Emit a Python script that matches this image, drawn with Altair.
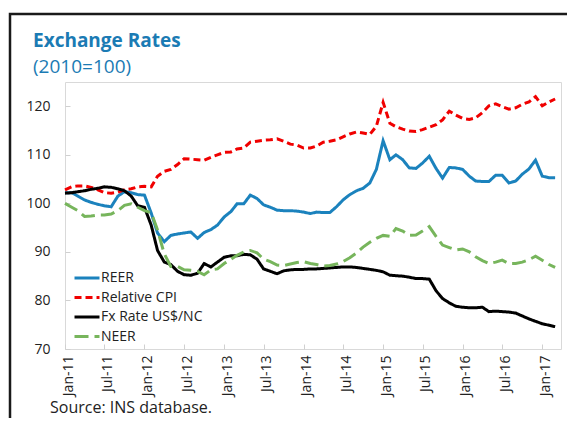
import altair as alt
import pandas as pd

months = pd.date_range("2011-01-01", periods=75, freq="MS").strftime("%Y-%m-%d").tolist()

reer = [102.2, 102.2, 101.5, 100.7, 100.2, 99.8, 99.5, 99.3, 101.5, 102.4, 102.2, 101.8,
        101.7, 98.0, 93.9, 92.1, 93.4, 93.7, 93.9, 94.1, 92.8, 94.0, 94.6, 95.5,
        97.2, 98.3, 99.9, 99.9, 101.7, 101.0, 99.7, 99.2, 98.6, 98.5, 98.5, 98.4,
        98.2, 97.9, 98.2, 98.1, 98.1, 99.3, 100.7, 101.8, 102.6, 103.1, 104.2, 107.0,
        112.9, 109.0, 110.0, 109.0, 107.3, 107.2, 108.3, 109.7, 107.2, 105.2, 107.4, 107.3,
        107.0, 105.6, 104.6, 104.5, 104.5, 105.8, 105.8, 104.2, 104.6, 106.0, 107.1, 108.9,
        105.6, 105.3, 105.3]

cpi = [102.8, 103.4, 103.6, 103.6, 103.3, 102.8, 102.2, 102.1, 102.3, 102.8, 103.0, 103.4,
       103.5, 103.4, 105.6, 106.6, 107.0, 108.0, 109.2, 109.1, 109.0, 108.9, 109.5, 110.0,
       110.5, 110.6, 111.2, 111.4, 112.6, 112.8, 113.0, 113.1, 113.3, 112.8, 112.2, 112.0,
       111.4, 111.4, 111.8, 112.6, 112.8, 113.1, 113.7, 114.3, 114.7, 114.5, 114.2, 115.9,
       120.8, 116.5, 115.8, 115.3, 114.9, 114.8, 115.2, 115.7, 116.2, 117.2, 119.0, 118.2,
       117.5, 117.3, 117.6, 118.7, 120.1, 120.5, 119.9, 119.4, 119.7, 120.4, 120.9, 122.0,
       120.1, 120.9, 121.5]

fx = [102.1, 102.2, 102.4, 102.6, 102.9, 103.1, 103.4, 103.3, 103.0, 102.6, 101.5, 99.5,
      99.2, 95.5, 90.3, 87.9, 87.4, 86.0, 85.3, 85.2, 85.6, 87.6, 86.9, 87.9,
      88.9, 89.2, 89.2, 89.5, 89.4, 88.5, 86.5, 86.0, 85.5, 86.1, 86.3, 86.4,
      86.4, 86.5, 86.5, 86.6, 86.7, 86.8, 86.9, 86.9, 86.8, 86.6, 86.4, 86.2,
      85.9, 85.2, 85.1, 85.0, 84.8, 84.5, 84.5, 84.4, 82.0, 80.4, 79.5, 78.8,
      78.6, 78.5, 78.5, 78.6, 77.7, 77.8, 77.7, 77.6, 77.4, 76.8, 76.2, 75.7,
      75.2, 74.9, 74.6]

neer = [100.0, 99.2, 98.5, 97.3, 97.4, 97.6, 97.6, 97.8, 98.5, 99.6, 99.9, 99.2,
        98.5, 98.1, 94.5, 89.6, 87.0, 87.0, 86.3, 86.2, 86.0, 85.3, 86.3, 86.5,
        87.6, 88.5, 89.3, 90.0, 90.3, 89.8, 88.5, 88.0, 87.3, 87.2, 87.5, 87.8,
        88.0, 87.6, 87.4, 87.1, 87.2, 87.5, 88.0, 88.8, 89.8, 91.0, 92.0, 92.8,
        93.4, 93.2, 94.8, 94.3, 93.4, 93.5, 94.3, 95.2, 93.2, 91.4, 90.9, 90.4,
        90.6, 90.0, 89.0, 88.2, 87.6, 87.9, 88.3, 87.6, 87.6, 87.9, 88.4, 89.1,
        88.3, 87.4, 86.8]

series_names = ["REER", "Relative CPI", "Fx Rate US$/NC", "NEER"]
series_values = [reer, cpi, fx, neer]
colors = ["#1b82bd", "#f00000", "#000000", "#77b55c"]
dashes = [[1, 0], [7, 4], [1, 0], [14, 6]]
y_ticks = [70, 80, 90, 100, 110, 120]
x_tick_dates = [alt.DateTime(year=y, month=m, date=1)
                for y in range(2011, 2018) for m in (1, 7) if not (y == 2017 and m == 7)]

title_text = "Exchange Rates"
subtitle_text = "(2010=100)"
source_text = "Source: INS database."

rows = []
for name, vals in zip(series_names, series_values):
    for d, v in zip(months, vals):
        rows.append({"date": d, "series": name, "value": v})
df = pd.DataFrame(rows)

FONT = "Open Sans"
TXT = "#222222"
TITLE_COLOR = "#1b7bb4"

leg = alt.Legend(
    title=None, orient="none", legendX=14, legendY=188,
    symbolType="M-2,0H2", symbolSize=156, symbolStrokeWidth=3,
    labelFontSize=14, labelFont=FONT, labelColor=TXT,
    rowPadding=4.5, labelOffset=6, direction="vertical",
)

lines = alt.Chart(df).mark_line(strokeWidth=3).encode(
    x=alt.X("date:T",
            scale=alt.Scale(domain=["2011-01-01", "2017-03-28"]),
            axis=alt.Axis(values=x_tick_dates, format="%b-%y", labelAngle=270,
                          labelFontSize=14, labelFont=FONT, labelColor=TXT,
                          labelOverlap=False, labelFlush=False,
                          tickSize=5, tickColor="#d0d0d0", domain=False, grid=False,
                          offset=-5, labelPadding=6, labelOffset=3, title=None)),
    y=alt.Y("value:Q",
            scale=alt.Scale(domain=[70, 125], nice=False, zero=False),
            axis=alt.Axis(values=y_ticks, labelFontSize=14, labelFont=FONT,
                          labelColor=TXT, tickSize=5, tickColor="#d0d0d0",
                          domain=False, grid=False, offset=-5, labelPadding=15,
                          title=None)),
    color=alt.Color("series:N", scale=alt.Scale(domain=series_names, range=colors),
                    legend=leg),
    strokeDash=alt.StrokeDash("series:N",
                              scale=alt.Scale(domain=series_names, range=dashes),
                              legend=leg),
    order=alt.Order("date:T"),
)

one = alt.Data(values=[{}])

frame = alt.Chart(one).mark_rect(
    fillOpacity=0, stroke="#1a1a1a", strokeWidth=2.5
).encode(
    x=alt.value(-55), x2=alt.value(700), y=alt.value(-68), y2=alt.value(600)
)

title_mark = alt.Chart(one).mark_text(
    align="left", baseline="alphabetic", font=FONT, fontSize=19,
    fontWeight="bold", color=TITLE_COLOR
).encode(x=alt.value(-32), y=alt.value(-35), text=alt.value(title_text))

subtitle_mark = alt.Chart(one).mark_text(
    align="left", baseline="alphabetic", font=FONT, fontSize=19,
    fontWeight="normal", color=TITLE_COLOR
).encode(x=alt.value(-32), y=alt.value(-9), text=alt.value(subtitle_text))

source_mark = alt.Chart(one).mark_text(
    align="left", baseline="alphabetic", font=FONT, fontSize=16,
    color=TXT
).encode(x=alt.value(-15), y=alt.value(331), text=alt.value(source_text))

chart = alt.layer(lines, frame, title_mark, subtitle_mark, source_mark).properties(
    width=496, height=267,
    autosize=alt.AutoSizeParams(type="none"),
    padding={"left": 57, "top": 74, "right": 6, "bottom": 69},
).configure_view(stroke="#d9d9d9", strokeWidth=1)

chart.save("out.html", embed_options={"renderer": "svg", "actions": False})
